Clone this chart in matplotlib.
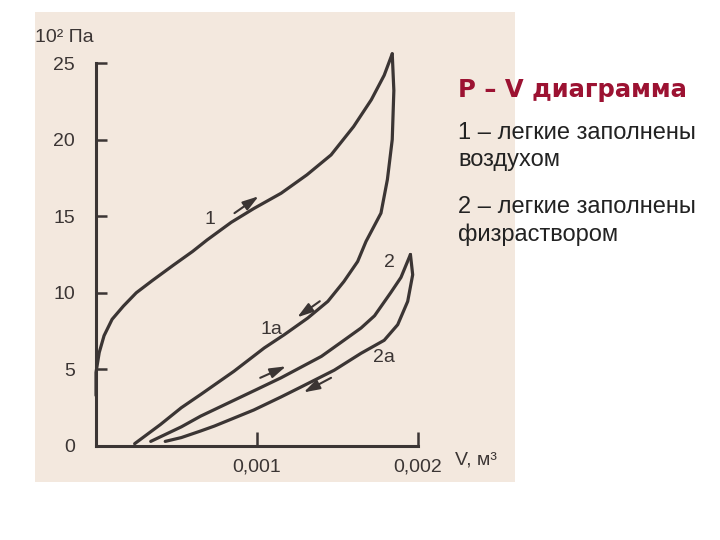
import numpy as np
import matplotlib.pyplot as plt
from matplotlib.patches import Rectangle

# V in units of 0.001 m3, P in units of 10^2 Pa
# 1 - inflation with air, 1a - deflation
v_1 = [0.0, 0.0, 0.02, 0.05, 0.10, 0.17, 0.25, 0.35, 0.48, 0.60, 0.69, 0.84,
       0.98, 1.15, 1.31, 1.46, 1.60, 1.71, 1.79, 1.84]
p_1 = [3.3, 4.8, 6.1, 7.2, 8.27, 9.13, 10.0, 10.8, 11.8, 12.7, 13.45, 14.6,
       15.5, 16.5, 17.7, 19.0, 20.85, 22.6, 24.2, 25.6]
v_1a = [1.84, 1.85, 1.84, 1.81, 1.77, 1.677, 1.625, 1.54, 1.44, 1.315, 1.17,
        1.045, 0.857, 0.65, 0.53, 0.40, 0.24]
p_1a = [25.6, 23.2, 20.0, 17.4, 15.2, 13.35, 12.04, 10.74, 9.44, 8.35, 7.27,
        6.4, 4.88, 3.36, 2.5, 1.4, 0.15]
# 2 - inflation with saline, 2a - deflation
v_2 = [0.34, 0.53, 0.65, 0.78, 1.0, 1.149, 1.40, 1.52, 1.646, 1.73, 1.83,
       1.894, 1.953]
p_2 = [0.3, 1.25, 1.95, 2.6, 3.7, 4.45, 5.85, 6.75, 7.7, 8.5, 10.0, 11.0, 12.5]
v_2a = [1.953, 1.967, 1.936, 1.874, 1.79, 1.646, 1.48, 1.273, 1.149, 0.98,
        0.735, 0.65, 0.53, 0.43]
p_2a = [12.5, 11.18, 9.44, 7.92, 6.9, 6.05, 4.95, 3.85, 3.2, 2.35, 1.3, 0.98,
        0.55, 0.3]

curve_labels = ['1', '1a', '2', '2a']
label_v = [0.71, 1.09, 1.82, 1.79]
label_p = [14.8, 7.6, 11.95, 5.8]

# direction arrows: (start V, start P, end V, end P)
arrows = [(0.86, 15.2, 1.01, 16.3),
          (1.39, 9.45, 1.25, 8.4),
          (1.02, 4.45, 1.18, 5.2),
          (1.46, 4.45, 1.29, 3.5)]

yticks = [0, 5, 10, 15, 20, 25]
xticks = [1, 2]
xticklabels = ['0,001', '0,002']

title = 'P – V диаграмма'
legend_lines = ['1 – легкие заполнены', 'воздухом', '2 – легкие заполнены', 'физраствором']

ink = '#3b3534'
plt.rcParams['font.family'] = ['Liberation Sans', 'DejaVu Sans']

fig = plt.figure(figsize=(7.2, 5.4), dpi=100)
fig.patch.set_facecolor('white')
# scanned paper background
fig.patches.append(Rectangle((35/720, 1-482/540), 480/720, 470/540,
                             transform=fig.transFigure, facecolor='#f3e8de',
                             edgecolor='none', zorder=-1))

ax = fig.add_axes([96/720, 1-446/540, (418-96)/720, (446-63)/540])
ax.set_facecolor('none')
ax.set_xlim(0, 2)
ax.set_ylim(0, 25)
for s in ['top', 'right']:
    ax.spines[s].set_visible(False)
for s in ['left', 'bottom']:
    ax.spines[s].set_color(ink)
    ax.spines[s].set_linewidth(2.2)

for v, p in [(v_1, p_1), (v_1a, p_1a), (v_2, p_2), (v_2a, p_2a)]:
    ax.plot(v, p, color=ink, lw=2.3, solid_capstyle='round',
            solid_joinstyle='round', clip_on=False)

for t, v, p in zip(curve_labels, label_v, label_p):
    ax.text(v, p, t, fontsize=14, color=ink, ha='center', va='center')

for x0, y0, x1, y1 in arrows:
    ax.annotate('', xy=(x1, y1), xytext=(x0, y0),
                arrowprops=dict(arrowstyle='-|>,head_length=0.8,head_width=0.25',
                                color=ink, lw=1.5, mutation_scale=12,
                                shrinkA=0, shrinkB=0))

ax.set_yticks(yticks)
ax.set_yticklabels([str(t) for t in yticks], fontsize=14, color=ink)
ax.set_xticks(xticks)
ax.set_xticklabels(xticklabels, fontsize=14, color=ink)
ax.tick_params(axis='y', direction='in', length=8, width=1.8, color=ink, pad=15)
ax.tick_params(axis='x', direction='in', length=10, width=1.8, color=ink, pad=9)

fig.text(35/720, 1-37/540, '10² Па', fontsize=14, color=ink, va='center')
fig.text(455/720, 1-460/540, 'V, м³', fontsize=14, color=ink, va='center')

fig.text(458/720, 1-90/540, title, fontsize=17.5, fontweight='bold',
         family='DejaVu Sans', color='#9c1232', va='center')
ys = [133, 160, 207, 235]
for t, y in zip(legend_lines, ys):
    fig.text(458/720, 1-y/540, t, fontsize=17, color='#222222', va='center')

fig.savefig('out.png', dpi=100)
plt.close()
